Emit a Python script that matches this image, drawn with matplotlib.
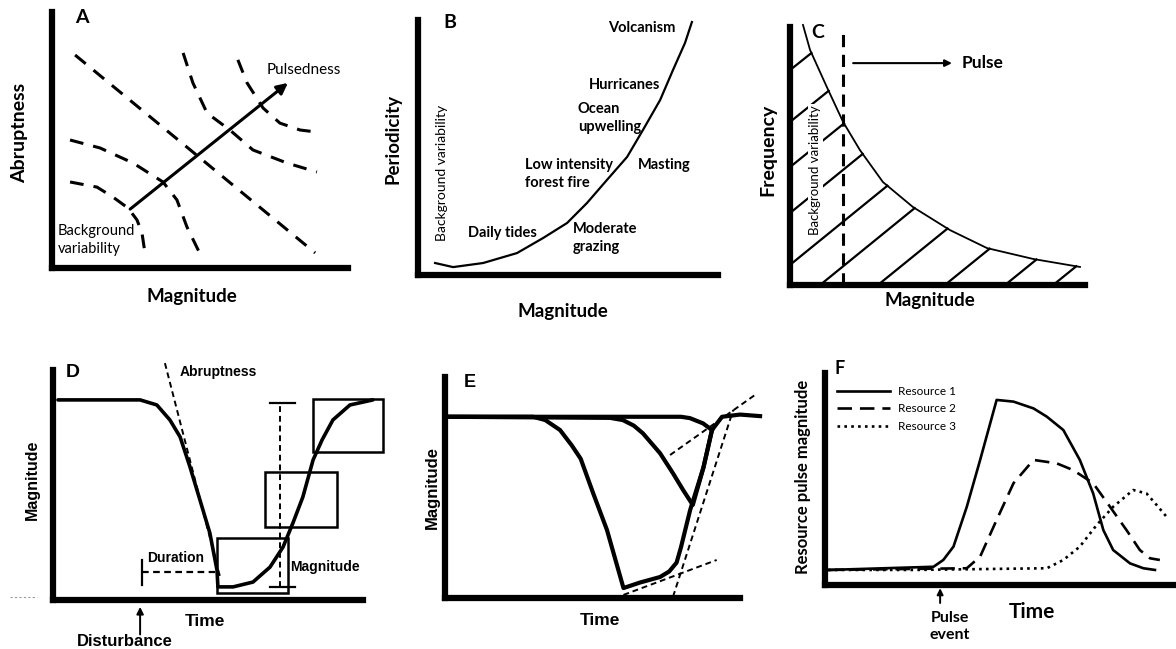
import numpy as np
import matplotlib.pyplot as plt

plt.rcParams['font.family'] = ['Lato', 'DejaVu Sans']
ARIAL = ['Liberation Sans', 'DejaVu Sans']

W, H = 1176, 649

# ---- panel A: iso-lines of pulsedness (magnitude x abruptness)
a_iso1_x = [0.61, 1.52, 2.06, 2.57, 2.87, 3.04, 3.14]
a_iso1_y = [3.36, 3.16, 2.77, 2.34, 1.88, 1.37, 0.59]
a_iso2_x = [0.61, 1.62, 2.74, 3.75, 4.22, 4.56, 5.07]
a_iso2_y = [5.00, 4.69, 4.10, 3.36, 2.66, 1.60, 0.39]
a_iso3_x = [0.78, 5.00, 8.89]
a_iso3_y = [8.32, 4.30, 0.59]
a_iso4_x = [4.43, 4.76, 5.24, 6.01, 6.79, 7.94, 8.95]
a_iso4_y = [8.40, 7.23, 6.05, 5.39, 4.61, 4.10, 3.75]
a_iso5_x = [6.28, 6.59, 7.13, 7.70, 8.38, 8.95]
a_iso5_y = [8.13, 7.23, 6.25, 5.66, 5.39, 5.31]
a_arrow = [(2.64, 2.30), (7.97, 7.23)]

# ---- panel B: periodicity vs magnitude
b_x = [0.57, 1.17, 2.17, 3.30, 4.17, 4.97, 5.63, 6.30, 6.97, 7.50, 8.07, 8.50, 8.90, 9.13]
b_y = [0.47, 0.31, 0.47, 0.86, 1.45, 2.04, 2.82, 3.73, 4.63, 5.69, 6.86, 8.04, 9.10, 9.92]
b_events = ['Volcanism', 'Hurricanes', 'Ocean\nupwelling', 'Low intensity\nforest fire',
            'Masting', 'Daily tides', 'Moderate\ngrazing']
b_event_x = [7.47, 6.90, 5.33, 3.57, 7.33, 1.67, 5.17]
b_event_y = [9.69, 7.45, 6.16, 3.96, 4.31, 1.65, 1.45]
b_event_ha = ['center', 'center', 'left', 'left', 'left', 'left', 'left']

# ---- panel C: frequency vs magnitude
c_x = [0.44, 0.68, 1.25, 1.80, 2.37, 3.15, 4.17, 5.42, 6.68, 8.24, 9.83]
c_y = [10.08, 9.11, 7.67, 6.32, 5.23, 3.99, 3.02, 2.13, 1.43, 1.01, 0.70]
c_hatch_from_y = [0.78, 2.79, 4.57, 6.32, 8.33]   # hatch starts on the y axis
c_hatch_from_x = [1.02, 2.98, 5.25, 7.29, 8.92]   # hatch starts on the x axis
c_hatch_slope = 0.93
c_threshold = 1.8

# ---- panel D: disturbance trajectory
d_x = [0.16, 2.81, 3.35, 3.77, 4.10, 4.42, 4.74, 5.06, 5.29, 5.32, 5.81, 6.45, 7.00,
       7.42, 7.74, 8.06, 8.39, 8.68, 9.03, 9.58, 10.32]
d_y = [8.70, 8.70, 8.48, 7.83, 7.09, 5.78, 4.35, 2.91, 1.30, 0.57, 0.57, 0.78, 1.43,
       2.30, 3.35, 4.48, 6.09, 6.96, 7.83, 8.48, 8.70]
d_boxes = [(5.29, 0.30, 7.58, 2.70), (6.84, 3.17, 9.16, 5.57), (8.39, 6.43, 10.65, 8.74)]

# ---- panel E: three trajectories
e1_x = [0.11, 2.99, 3.40, 3.90, 4.30, 4.60, 5.02, 5.49, 6.05, 6.61, 7.29, 7.60, 7.85,
        8.00, 8.31, 8.76, 9.05, 9.39, 10.00, 10.68]
e1_y = [8.20, 8.20, 8.05, 7.60, 6.90, 6.30, 4.75, 3.08, 0.45, 0.70, 0.95, 1.20, 1.60,
        2.30, 3.98, 5.90, 7.60, 8.20, 8.30, 8.23]
e2_x = [0.11, 5.60, 6.03, 6.40, 6.71, 7.29, 7.73, 8.07, 8.40, 8.76, 9.05]
e2_y = [8.20, 8.15, 8.05, 7.80, 7.45, 6.55, 5.64, 4.89, 4.21, 5.90, 7.60]
e3_x = [0.11, 8.00, 8.30, 8.75, 9.05]
e3_y = [8.20, 8.20, 8.14, 7.90, 7.60]
e_tangents = [[(7.73, 0.06), (9.77, 8.51)], [(7.63, 6.47), (10.51, 9.19)],
              [(6.05, 0.14), (9.21, 1.72)]]

# ---- panel F: resource pulses
f1_x = [0.09, 3.09, 3.37, 3.66, 4.04, 4.42, 4.89, 5.37, 5.94, 6.32, 6.79, 7.26, 7.64,
        7.93, 8.21, 8.69, 9.07, 9.40]
f1_y = [0.71, 0.86, 1.18, 1.81, 3.69, 5.90, 8.73, 8.65, 8.33, 7.94, 7.31, 5.90, 4.32,
        2.59, 1.65, 1.02, 0.79, 0.71]
f2_x = [0.09, 4.04, 4.42, 4.89, 5.37, 5.94, 6.60, 7.07, 7.64, 8.12, 8.59, 8.97, 9.26, 9.54]
f2_y = [0.71, 0.79, 1.34, 3.07, 4.80, 5.90, 5.74, 5.42, 4.80, 3.69, 2.59, 1.65, 1.26, 1.18]
f3_x = [0.09, 2.52, 6.32, 6.79, 7.26, 7.74, 8.21, 8.78, 9.16, 9.45, 9.73]
f3_y = [0.71, 0.71, 0.79, 1.18, 1.81, 2.83, 3.69, 4.48, 4.32, 3.77, 3.22]
f_labels = ['Resource 1', 'Resource 2', 'Resource 3']

fig = plt.figure(figsize=(W / 100, H / 100), dpi=100)


def panel(left, top, right, bottom):
    ax = fig.add_axes([left / W, 1 - bottom / H, (right - left) / W, (bottom - top) / H])
    ax.set_xlim(0, 10)
    ax.set_ylim(0, 10)
    ax.set_xticks([])
    ax.set_yticks([])
    ax.patch.set_alpha(0)
    for s in ['top', 'right']:
        ax.spines[s].set_visible(False)
    for s in ['left', 'bottom']:
        ax.spines[s].set_linewidth(4.5)
        ax.spines[s].set_capstyle('projecting')
    return ax


def txt(ax, x, y, s, size, bold=True, **kw):
    kw.setdefault('ha', 'center')
    kw.setdefault('va', 'center')
    ax.text(x, y, s, fontsize=size, fontweight='bold' if bold else 'normal',
            clip_on=False, **kw)


def arrow(ax, p0, p1, lw, scale):
    ax.annotate('', xy=p1, xytext=p0, annotation_clip=False,
                arrowprops=dict(arrowstyle='-|>', lw=lw, color='black',
                                mutation_scale=scale, shrinkA=0, shrinkB=0))


# ================= A
ax = panel(52, 12, 348, 268)
for xs, ys in [(a_iso1_x, a_iso1_y), (a_iso2_x, a_iso2_y), (a_iso3_x, a_iso3_y),
               (a_iso4_x, a_iso4_y), (a_iso5_x, a_iso5_y)]:
    ax.plot(xs, ys, color='black', lw=2.2, dashes=(4.5, 3.3), clip_on=False)
arrow(ax, a_arrow[0], a_arrow[1], 2.2, 16)
txt(ax, 1.01, 9.8, 'A', 14)
txt(ax, 7.26, 7.73, 'Pulsedness', 11, bold=False, ha='left')
txt(ax, 0.2, 1.09, 'Background\nvariability', 10.5, bold=False, ha='left', linespacing=1.3)
txt(ax, -1.08, 5.27, 'Abruptness', 14, rotation=90)
txt(ax, 4.73, -1.1, 'Magnitude', 13.5)

# ================= B
ax = panel(418, 20, 718, 275)
ax.plot(b_x, b_y, color='black', lw=1.6, clip_on=False)
for s, x, y, ha in zip(b_events, b_event_x, b_event_y, b_event_ha):
    txt(ax, x, y, s, 10.5, ha=ha, linespacing=1.3)
txt(ax, 1.07, 9.92, 'B', 14)
txt(ax, 0.8, 4.0, 'Background variability', 10, bold=False, rotation=90)
txt(ax, -0.83, 5.33, 'Periodicity', 13.5, rotation=90)
txt(ax, 4.83, -1.45, 'Magnitude', 13.5)

# ================= C
ax = panel(790, 27, 1085, 285)
ax.plot(c_x, c_y, color='black', lw=1.3, clip_on=False)
grid = np.linspace(0.44, 9.83, 2000)
curve = np.interp(grid, c_x, c_y)
starts = [(0.0, y0) for y0 in c_hatch_from_y] + [(x0, 0.0) for x0 in c_hatch_from_x]
for x0, y0 in starts:
    line = y0 + c_hatch_slope * (grid - x0)
    diff = line - curve
    ok = (grid > x0) & (diff >= 0)
    if not ok.any():
        continue
    i = np.argmax(ok)
    ax.plot([x0, grid[i]], [y0, curve[i]], color='black', lw=1.6, zorder=1)
ax.plot([c_threshold, c_threshold], [0, 10], color='black', lw=2.2, dashes=(4, 2.5), zorder=2)
arrow(ax, (2.14, 8.6), (5.49, 8.6), 1.5, 10)
txt(ax, 5.83, 8.6, 'Pulse', 12.5, ha='left')
txt(ax, 0.95, 9.8, 'C', 14)
txt(ax, 0.85, 4.46, 'Background variability', 9.5, bold=False, rotation=90, zorder=3,
    bbox=dict(fc='white', ec='none', pad=1))
txt(ax, -0.75, 5.23, 'Frequency', 14, rotation=90)
txt(ax, 4.75, -0.62, 'Magnitude', 13.5)

# ================= D
ax = panel(53, 370, 363, 600)
ax.plot(d_x, d_y, color='black', lw=2.6, clip_on=False, solid_capstyle='round')
for x0, y0, x1, y1 in d_boxes:
    ax.add_patch(plt.Rectangle((x0, y0), x1 - x0, y1 - y0, fill=False, lw=1.8,
                               ec='black', clip_on=False))
ax.plot([3.61, 5.39], [10.3, 1.0], color='black', lw=1.4, dashes=(3, 2), clip_on=False)
ax.plot([2.87, 5.23], [1.22, 1.22], color='black', lw=1.6, dashes=(3, 2))
ax.plot([2.87, 2.87], [0.65, 1.74], color='black', lw=1.6)
ax.plot([7.32, 7.32], [0.57, 8.57], color='black', lw=1.4, dashes=(3, 2))
ax.plot([7.0, 7.8], [8.57, 8.57], color='black', lw=1.6)
ax.plot([7.0, 7.8], [0.57, 0.57], color='black', lw=1.6)
ax.plot([-1.39, -0.52], [0.12, 0.12], color='#999999', lw=0.8, dashes=(2, 2), clip_on=False)
arrow(ax, (2.81, -1.5), (2.81, -0.3), 1.4, 10)
txt(ax, 0.65, 9.87, 'D', 14, family=ARIAL)
txt(ax, 4.1, 9.9, 'Abruptness', 10, ha='left', family=ARIAL)
txt(ax, 3.03, 1.83, 'Duration', 10, ha='left', family=ARIAL)
txt(ax, 7.65, 1.43, 'Magnitude', 10, ha='left', family=ARIAL)
txt(ax, 4.9, -0.94, 'Time', 12.5, family=ARIAL)
txt(ax, 2.32, -1.81, 'Disturbance', 12, family=ARIAL)
txt(ax, -0.68, 5.22, 'Magnitude', 11.5, rotation=90, family=ARIAL)

# ================= E
ax = panel(445, 377, 740, 598)
for xs, ys in [(e1_x, e1_y), (e2_x, e2_y), (e3_x, e3_y)]:
    ax.plot(xs, ys, color='black', lw=3.0, clip_on=False, solid_joinstyle='round')
for (x0, y0), (x1, y1) in e_tangents:
    ax.plot([x0, x1], [y0, y1], color='black', lw=1.4, dashes=(3, 2), clip_on=False)
txt(ax, 0.85, 9.77, 'E', 13, family=ARIAL)
txt(ax, 5.25, -1.0, 'Time', 12.5, family=ARIAL)
txt(ax, -0.44, 5.02, 'Magnitude', 12, rotation=90, family=ARIAL)

# ================= F
ax = panel(825, 373, 1176, 585)
ax.plot(f1_x, f1_y, color='black', lw=1.9, label=f_labels[0], clip_on=False)
ax.plot(f2_x, f2_y, color='black', lw=1.9, dashes=(5.5, 3), label=f_labels[1], clip_on=False)
ax.plot(f3_x, f3_y, color='black', lw=1.9, dashes=(1, 1.6), label=f_labels[2], clip_on=False)
ax.legend(loc='upper left', bbox_to_anchor=(0.034, 0.94), frameon=False, fontsize=8.5,
          handlelength=4.5, handletextpad=0.7, labelspacing=0.55, borderpad=0,
          borderaxespad=0)
arrow(ax, (3.28, -0.85), (3.28, -0.15), 1.4, 9)
txt(ax, 0.43, 10.2, 'F', 13)
txt(ax, 3.56, -1.97, 'Pulse\nevent', 11.5, linespacing=1.3)
txt(ax, 5.89, -1.26, 'Time', 15)
txt(ax, -0.63, 5.09, 'Resource pulse magnitude', 12, rotation=90)

fig.savefig('out.png', dpi=100, facecolor='white')
